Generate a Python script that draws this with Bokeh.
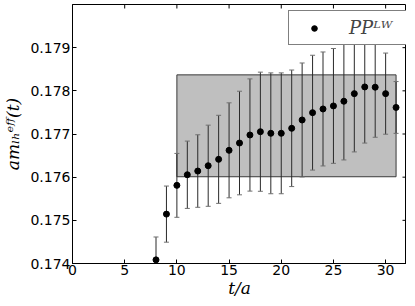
from bokeh.plotting import figure
from bokeh.models import (ColumnDataSource, Legend, LegendItem,
                          FixedTicker, NumeralTickFormatter, Range1d)
from bokeh.embed import file_html
from bokeh.resources import INLINE
import math

# data
t = [8, 9, 10, 11, 12, 13, 14, 15, 16, 17, 18, 19, 20, 21, 22, 23, 24, 25, 26, 27, 28, 29, 30, 31]
m_eff = [0.174084, 0.175144, 0.175810, 0.176056, 0.176142, 0.176265, 0.176413, 0.176622,
         0.176791, 0.176977, 0.177053, 0.177016, 0.177016, 0.177132, 0.177325, 0.177494,
         0.177580, 0.177650, 0.177759, 0.177935, 0.178090, 0.178084, 0.177935, 0.177615]
m_err = [0.00053, 0.00065, 0.00074, 0.00078, 0.00084, 0.00094, 0.00102, 0.00110,
         0.00120, 0.00130, 0.00138, 0.00140, 0.00140, 0.00135, 0.00132, 0.00133,
         0.00132, 0.00133, 0.00136, 0.00135, 0.00130, 0.00116, 0.00094, 0.00060]
fit_t = [10, 31]
fit_band = [0.17601, 0.17837]
x_ticks = [0, 5, 10, 15, 20, 25, 30]
y_ticks = [0.174, 0.175, 0.176, 0.177, 0.178, 0.179]
x_lim = [0, 32]
y_lim = [0.174, 0.180]
legend_label = "PPᴸᵂ"
x_label = "t/a"
y_label = "amₗₕᵉᶠᶠ(t)"

upper = [v + e for v, e in zip(m_eff, m_err)]
lower = [v - e for v, e in zip(m_eff, m_err)]
src = ColumnDataSource(dict(t=t, y=m_eff, upper=upper, lower=lower))

p = figure(frame_width=334, frame_height=259, output_backend="svg", toolbar_location=None,
           x_range=Range1d(*x_lim), y_range=Range1d(*y_lim),
           min_border_left=72, min_border_right=0, min_border_top=4, min_border_bottom=36)
p.xgrid.visible = False
p.ygrid.visible = False
p.outline_line_color = "black"
p.outline_line_width = 1
p.background_fill_color = "white"

# fit band
p.quad(left=[fit_t[0]], right=[fit_t[1]], bottom=[fit_band[0]], top=[fit_band[1]],
       fill_color="#bfbfbf", line_color="#3a3a3a", line_width=1)

# error bars
p.segment(x0="t", y0="lower", x1="t", y1="upper", source=src,
          line_color="#2a2a2a", line_width=1)
p.scatter("t", "upper", source=src, marker="dash", size=5, line_color="#707070", line_width=1)
p.scatter("t", "lower", source=src, marker="dash", size=5, line_color="#707070", line_width=1)

pts = p.scatter("t", "y", source=src, size=6, color="black", marker="circle")

# mirrored inward ticks on the top and right edges
p.scatter(x=x_ticks, y=[y_lim[1]] * len(x_ticks), marker="dash", angle=math.pi / 2,
          size=8, line_color="black", line_width=1)
p.scatter(x=[x_lim[1]] * len(y_ticks), y=y_ticks, marker="dash",
          size=8, line_color="black", line_width=1)

for ax in p.axis:
    ax.major_tick_in = 4
    ax.major_tick_out = 0
    ax.minor_tick_line_color = None
    ax.axis_line_color = "black"
    ax.major_label_text_font = "DejaVu Sans"
    ax.major_label_text_font_size = "14px"
    ax.major_label_text_color = "black"
    ax.major_label_standoff = 2

p.xaxis.major_label_standoff = 1
p.xaxis.ticker = FixedTicker(ticks=x_ticks)
p.yaxis.ticker = FixedTicker(ticks=y_ticks)
p.yaxis.formatter = NumeralTickFormatter(format="0.000")
p.xaxis.axis_label = x_label
p.yaxis.axis_label = y_label
for ax in (p.xaxis[0], p.yaxis[0]):
    ax.axis_label_text_font = "DejaVu Serif"
    ax.axis_label_text_font_style = "italic"
    ax.axis_label_text_font_size = "17px"
    ax.axis_label_text_color = "black"
p.xaxis.axis_label_standoff = 0
p.yaxis.axis_label_standoff = 4

legend = Legend(items=[LegendItem(label=legend_label, renderers=[pts])],
                location=(216, 218), orientation="vertical",
                label_text_font="DejaVu Serif", label_text_font_style="italic",
                label_text_font_size="18px", label_standoff=16,
                glyph_width=38, glyph_height=14, label_height=14, label_width=51,
                padding=6, spacing=0, margin=0,
                border_line_color="black", border_line_width=1,
                background_fill_color="white", background_fill_alpha=1.0)
p.add_layout(legend, "center")

open("out.html", "w").write(file_html(p, INLINE))
